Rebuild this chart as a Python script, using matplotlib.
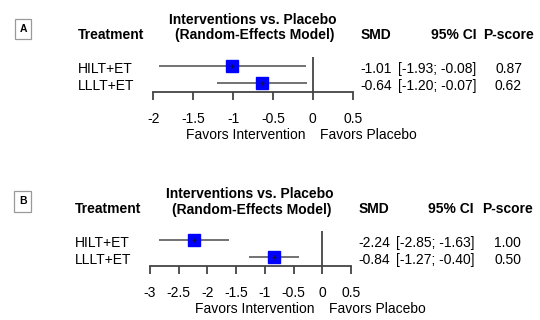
import matplotlib
matplotlib.use("Agg")
import matplotlib.pyplot as plt
import matplotlib.transforms as mtransforms
from matplotlib.patches import Rectangle

plt.rcParams['font.family'] = ['Liberation Sans', 'DejaVu Sans']

# ---------------- data ----------------
treatments = ["HILT+ET", "LLLT+ET"]

smd_a = [-1.01, -0.64]
lo_a = [-1.93, -1.20]
hi_a = [-0.08, -0.07]
pscore_a = [0.87, 0.62]
ticks_a = [-2, -1.5, -1, -0.5, 0, 0.5]

smd_b = [-2.24, -0.84]
lo_b = [-2.85, -1.27]
hi_b = [-1.63, -0.40]
pscore_b = [1.00, 0.50]
ticks_b = [-3, -2.5, -2, -1.5, -1, -0.5, 0, 0.5]

title_lines = ["Interventions vs. Placebo", "(Random-Effects Model)"]
header_treat = "Treatment"
header_smd = "SMD"
header_ci = "95% CI"
header_p = "P-score"
favors_left = "Favors Intervention"
favors_right = "Favors Placebo"

W, H = 540, 320
fig = plt.figure(figsize=(W / 100, H / 100), dpi=100)
fig.patch.set_facecolor("white")


def fx(x):
    return x / W


def fy(y):
    return 1 - y / H


LINE_C = "#5a5a5a"
AX_C = "#444444"
FS = 10
UNIT = 17.0  # px per row

panels = [
    dict(label="A", smd=smd_a, lo=lo_a, hi=hi_a, p=pscore_a, ticks=ticks_a,
         xl=153.3, xr=352.7, ax_bottom=91.7, dy=0.0,
         title_cx=253.0, treat_x=77.5, smd_x=360.5, ci_r=476.5, p_c=508.5,
         box=(15.3, 19.0, 31.3, 39.0)),
    dict(label="B", smd=smd_b, lo=lo_b, hi=hi_b, p=pscore_b, ticks=ticks_b,
         xl=150.0, xr=351.0, ax_bottom=266.0, dy=174.3,
         title_cx=250.0, treat_x=74.5, smd_x=358.5, ci_r=474.0, p_c=507.8,
         box=(14.3, 191.0, 31.3, 211.5)),
]

ymin_d = 0.47
ymax_d = 2.0 + 12.0 / UNIT

for P in panels:
    height_px = (ymax_d - ymin_d) * UNIT
    ax = fig.add_axes([fx(P["xl"]), fy(P["ax_bottom"]),
                       (P["xr"] - P["xl"]) / W, height_px / H])
    ticks = P["ticks"]
    ax.set_xlim(ticks[0], ticks[-1])
    ax.set_ylim(ymin_d, ymax_d)
    ax.patch.set_alpha(0)
    for s in ["top", "left", "right"]:
        ax.spines[s].set_visible(False)
    ax.spines["bottom"].set_color(AX_C)
    ax.spines["bottom"].set_linewidth(1.3)
    ax.set_yticks([])
    ax.set_xticks(ticks)
    ax.set_xticklabels([f"{t:g}" for t in ticks])
    ax.tick_params(axis="x", direction="out", length=5.9, width=1.3,
                   color=AX_C, labelsize=FS, labelcolor="black", pad=8.5)

    ypos = [2, 1]
    # zero line
    ax.vlines(0, ymin_d, 2.5, color=AX_C, lw=1.3, zorder=2)
    # CIs and boxes
    for yv, m, l, h in zip(ypos, P["smd"], P["lo"], P["hi"]):
        ax.hlines(yv, l, h, color=LINE_C, lw=1.2, zorder=3)
        ax.plot([m], [yv], marker="s", ms=9.3, color="#0000FF",
                mec="#0000FF", lw=0, zorder=4)
        ax.plot([m], [yv], marker="+", ms=3.2, color="#101040",
                mew=0.6, lw=0, zorder=5)

    # row texts
    blend = mtransforms.blended_transform_factory(fig.transFigure, ax.transData)
    rowtr = mtransforms.offset_copy(blend, fig=fig, y=-7.3, units="dots")
    for yv, name, m, l, h, p in zip(ypos, treatments, P["smd"], P["lo"],
                                    P["hi"], P["p"]):
        fig.text(fx(P["treat_x"]), yv, name, transform=rowtr, fontsize=FS,
                 ha="left", va="baseline")
        fig.text(fx(P["smd_x"]), yv, f"{m:.2f}", transform=rowtr,
                 fontsize=FS, ha="left", va="baseline")
        fig.text(fx(P["ci_r"]), yv, f"[{l:.2f}; {h:.2f}]", transform=rowtr,
                 fontsize=FS, ha="right", va="baseline")
        fig.text(fx(P["p_c"]), yv, f"{p:.2f}", transform=rowtr,
                 fontsize=FS, ha="center", va="baseline")

    dy = P["dy"]
    # title
    fig.text(fx(P["title_cx"]), fy(23.5 + dy), title_lines[0], fontsize=FS,
             fontweight="bold", ha="center", va="baseline")
    fig.text(fx(P["title_cx"] + 1.5), fy(39.5 + dy), title_lines[1],
             fontsize=FS, fontweight="bold", ha="center", va="baseline")
    # headers
    hy = fy(38.8 + dy)
    fig.text(fx(P["treat_x"]), hy, header_treat, fontsize=FS,
             fontweight="bold", ha="left", va="baseline")
    fig.text(fx(P["smd_x"]), hy, header_smd, fontsize=FS,
             fontweight="bold", ha="left", va="baseline")
    fig.text(fx(P["ci_r"]), hy, header_ci, fontsize=FS,
             fontweight="bold", ha="right", va="baseline")
    fig.text(fx(P["p_c"]), hy, header_p, fontsize=FS,
             fontweight="bold", ha="center", va="baseline")

    # favors labels
    fblend = mtransforms.blended_transform_factory(ax.transData, fig.transFigure)
    ftl = mtransforms.offset_copy(fblend, fig=fig, x=-7.5, units="dots")
    ftr = mtransforms.offset_copy(fblend, fig=fig, x=7.0, units="dots")
    fyv = fy(139.0 + dy)
    fig.text(0, fyv, favors_left, transform=ftl, fontsize=FS, ha="right",
             va="baseline")
    fig.text(0, fyv, favors_right, transform=ftr, fontsize=FS, ha="left",
             va="baseline")

    # panel label box
    x0, y0, x1, y1 = P["box"]
    fig.patches.append(Rectangle((fx(x0), fy(y1)), (x1 - x0) / W,
                                 (y1 - y0) / H, transform=fig.transFigure,
                                 fill=False, edgecolor="#999999", lw=0.9))
    fig.text(fx((x0 + x1) / 2), fy((y0 + y1) / 2), P["label"], fontsize=7.5,
             fontweight="bold", ha="center", va="center")

fig.savefig("out.png", dpi=100, facecolor="white")
